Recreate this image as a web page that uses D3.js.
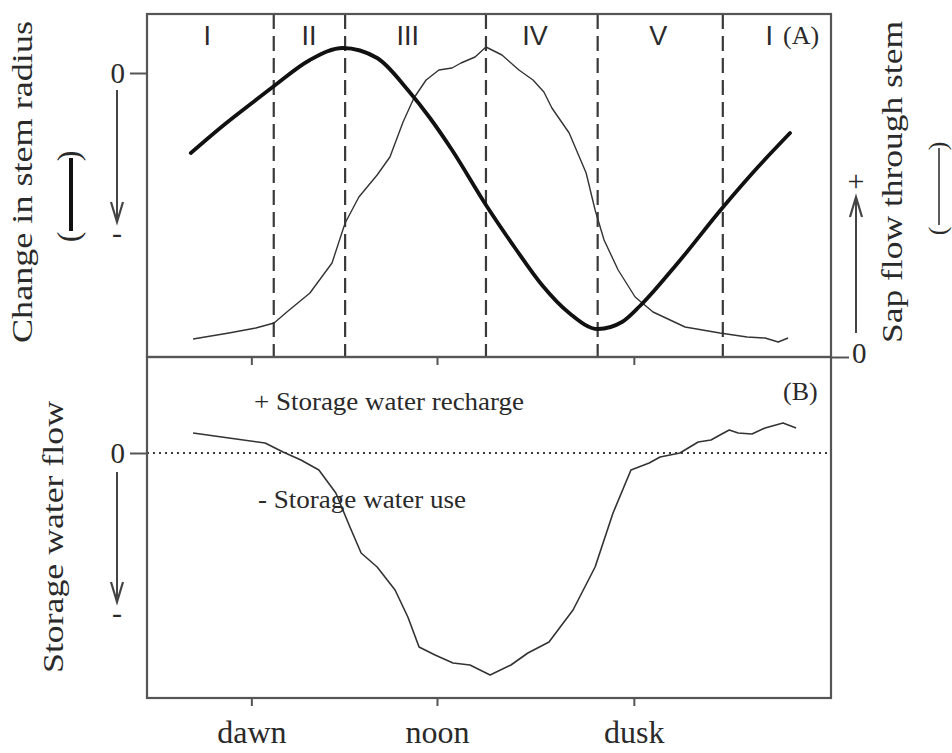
<!DOCTYPE html>
<html>
<head>
<meta charset="utf-8">
<script src="https://cdn.jsdelivr.net/npm/d3@7"></script>
<style>
  body { margin: 0; background: #fff; }
  svg { display: block; }
</style>
</head>
<body>
<svg id="chart" width="952" height="753"></svg>
<script>
// Time of day (hours) for each sample
const radiusHours = [4.31, 5.38, 6.22, 6.91, 8.03, 9.06, 10.13, 11.09, 11.78, 12.47, 13.53,
  14.44, 15.28, 16.13, 17.03, 17.78, 18.34, 19.47, 20.94, 22.0, 23.03];
// Change in stem radius (relative units, 0 = reference)
const radiusValues = [-0.80, -0.51, -0.30, -0.13, 0.13, 0.25, 0.15, -0.17, -0.45, -0.77, -1.32,
  -1.75, -2.12, -2.40, -2.56, -2.49, -2.33, -1.92, -1.34, -0.95, -0.60];

const sapHours = [4.38, 5.5, 6.34, 6.91, 7.31, 8.03, 8.72, 9.13, 9.56, 10.13, 10.53, 10.94,
  11.28, 11.66, 12.06, 12.47, 12.75, 13.19, 13.53, 14.03, 14.56, 15.0, 15.34, 15.59, 16.13,
  16.66, 16.94, 17.22, 17.66, 18.19, 18.75, 19.75, 20.84, 21.69, 22.25, 22.66, 22.97];
// Sap flow through stem (relative units)
const sapValues = [0.18, 0.24, 0.29, 0.34, 0.45, 0.64, 0.94, 1.34, 1.60, 1.82, 2.00, 2.35,
  2.59, 2.77, 2.87, 2.89, 2.94, 3.00, 3.10, 3.02, 2.87, 2.77, 2.65, 2.49, 2.24,
  1.84, 1.47, 1.17, 0.87, 0.60, 0.45, 0.30, 0.24, 0.20, 0.19, 0.15, 0.19];

const storageHours = [4.38, 5.5, 6.63, 7.19, 7.75, 8.31, 8.84, 9.28, 9.63, 10.13, 10.69, 11.09,
  11.44, 11.94, 12.5, 13.03, 13.66, 14.31, 14.84, 15.5, 16.25, 16.94, 17.5, 18.06, 18.63,
  18.97, 19.59, 20.16, 20.56, 20.84, 21.13, 21.41, 21.84, 22.25, 22.81, 23.22];
// Storage water flow (+ recharge, - use)
const storageValues = [0.20, 0.15, 0.10, 0.01, -0.07, -0.17, -0.40, -0.74, -1.00, -1.14, -1.37, -1.64,
  -1.94, -2.02, -2.10, -2.12, -2.22, -2.12, -2.00, -1.89, -1.57, -1.14, -0.60, -0.17, -0.10,
  -0.04, 0.00, 0.11, 0.13, 0.18, 0.23, 0.20, 0.19, 0.25, 0.30, 0.25];

// Phase boundaries (hours) and phase labels
const phaseBounds = [6.9, 9.13, 13.53, 17.02, 20.93];
const phaseLabels = ["I", "II", "III", "IV", "V", "I"];
const phaseLabelHours = [4.82, 8.0, 11.09, 15.06, 18.91, 22.38];

// Time axis ticks
const timeTicks = [6.2, 12.0, 18.15];
const timeLabels = ["dawn", "noon", "dusk"];

const svg = d3.select("#chart");
const serif = "'Liberation Serif', 'Times New Roman', serif";
const sans = "'Liberation Sans', Arial, sans-serif";
const ink = "#2a2a2a";
const frameColor = "#555";

const left = 147, right = 831, topA = 14, midY = 357, botB = 698;

const x = d3.scaleLinear().domain([2.94, 24.31]).range([left, right]);
const yRadius = d3.scaleLinear().domain([-2.84, 0.59]).range([midY, topA]);
const ySap = d3.scaleLinear().domain([0, 3.43]).range([midY, topA]);
const yStore = d3.scaleLinear().domain([-2.45, 0.96]).range([botB, midY]);

// Phase boundary dashes
svg.append("g").selectAll("line").data(phaseBounds).join("line")
  .attr("x1", d => x(d)).attr("x2", d => x(d))
  .attr("y1", topA).attr("y2", midY)
  .attr("stroke", "#3a3a3a").attr("stroke-width", 2.2)
  .attr("stroke-dasharray", "15,7");

// Zero line in panel B
svg.append("line")
  .attr("x1", left).attr("x2", right)
  .attr("y1", yStore(0)).attr("y2", yStore(0))
  .attr("stroke", "#3a3a3a").attr("stroke-width", 2)
  .attr("stroke-dasharray", "2,4");

// Sap flow (thin)
svg.append("path")
  .datum(sapHours.map((h, i) => [h, sapValues[i]]))
  .attr("fill", "none").attr("stroke", "#333").attr("stroke-width", 1.4)
  .attr("stroke-linejoin", "round")
  .attr("d", d3.line().x(d => x(d[0])).y(d => ySap(d[1])).curve(d3.curveLinear));

// Stem radius (thick)
svg.append("path")
  .datum(radiusHours.map((h, i) => [h, radiusValues[i]]))
  .attr("fill", "none").attr("stroke", "#111").attr("stroke-width", 3.8)
  .attr("stroke-linecap", "round")
  .attr("d", d3.line().x(d => x(d[0])).y(d => yRadius(d[1])).curve(d3.curveMonotoneX));

// Storage water flow
svg.append("path")
  .datum(storageHours.map((h, i) => [h, storageValues[i]]))
  .attr("fill", "none").attr("stroke", "#333").attr("stroke-width", 1.6)
  .attr("stroke-linejoin", "round")
  .attr("d", d3.line().x(d => x(d[0])).y(d => yStore(d[1])));

// Panel frames
[[topA, midY], [midY, botB]].forEach(([y0, y1]) => {
  svg.append("rect").attr("x", left).attr("y", y0)
    .attr("width", right - left).attr("height", y1 - y0)
    .attr("fill", "none").attr("stroke", frameColor).attr("stroke-width", 2.2);
});

function styleAxis(g, size) {
  g.select(".domain").remove();
  g.selectAll(".tick line").attr("stroke", frameColor).attr("stroke-width", 2);
  g.selectAll(".tick text").attr("fill", ink)
    .style("font-family", serif).style("font-size", size + "px");
}

// Zero ticks
const axA = svg.append("g").attr("transform", `translate(${left},0)`)
  .call(d3.axisLeft(yRadius).tickValues([0]).tickSize(17).tickPadding(5).tickFormat(() => "0"));
styleAxis(axA, 29);
const axB = svg.append("g").attr("transform", `translate(${left},0)`)
  .call(d3.axisLeft(yStore).tickValues([0]).tickSize(17).tickPadding(5).tickFormat(() => "0"));
styleAxis(axB, 29);
const axR = svg.append("g").attr("transform", `translate(${right},0)`)
  .call(d3.axisRight(ySap).tickValues([0]).tickSize(18).tickPadding(3).tickFormat(() => "0"));
styleAxis(axR, 29);
axR.selectAll(".tick text").attr("dy", "0.2em");

// Time ticks at the panel boundary and at the bottom
const axMid = svg.append("g").attr("transform", `translate(0,${midY})`)
  .call(d3.axisBottom(x).tickValues(timeTicks).tickSize(8).tickFormat(() => ""));
styleAxis(axMid, 10);
const axBot = svg.append("g").attr("transform", `translate(0,${botB})`)
  .call(d3.axisBottom(x).tickValues(timeTicks).tickSize(8).tickFormat((d, i) => timeLabels[i]));
styleAxis(axBot, 32);
axBot.selectAll(".tick text").attr("y", 45).attr("dy", 0);

// Phase labels
svg.append("g").selectAll("text").data(phaseLabels).join("text")
  .attr("x", (d, i) => x(phaseLabelHours[i])).attr("y", 45)
  .attr("text-anchor", "middle").attr("fill", ink)
  .style("font-family", sans).style("font-size", "27px")
  .text(d => d);

function label(txt, xp, yp, size, opts = {}) {
  const t = svg.append("text").attr("x", xp).attr("y", yp).attr("fill", ink)
    .style("font-family", serif).style("font-size", size + "px")
    .attr("text-anchor", opts.anchor || "start").text(txt);
  if (opts.len) t.attr("textLength", opts.len).attr("lengthAdjust", "spacingAndGlyphs");
  return t;
}
function vlabel(txt, xp, yp, size, len) {
  const t = svg.append("text").attr("transform", `translate(${xp},${yp}) rotate(-90)`)
    .attr("text-anchor", "middle").attr("fill", ink)
    .style("font-family", serif).style("font-size", size + "px").text(txt);
  if (len) t.attr("textLength", len).attr("lengthAdjust", "spacingAndGlyphs");
  return t;
}

label("(A)", 783, 44, 26);
label("(B)", 783, 400, 26);
label("+ Storage water recharge", 254, 410, 26, { len: 270 });
label("- Storage water use", 258, 508, 26, { len: 208 });

// Axis titles
vlabel("Change in stem radius", 32, 182, 30, 322);
vlabel("Sap flow through stem", 902, 182, 30, 322);
vlabel("Storage water flow", 63, 537, 30, 272);

// Line-style keys inside parentheses
function key(cx, yTop, yBot, width, color, size) {
  const off = size * 0.25;
  vlabel(")", cx + off, yTop + 6, size);
  vlabel("(", cx + off, yBot - 6, size);
  svg.append("line").attr("x1", cx).attr("x2", cx)
    .attr("y1", yTop + 8).attr("y2", yBot - 12)
    .attr("stroke", color).attr("stroke-width", width);
}
key(71, 150, 243, 4, "#111", 32);
key(939, 140, 237, 1.6, "#333", 26);

// Direction arrows
function arrow(ax, y0, y1) {
  const dir = y1 > y0 ? 1 : -1;
  svg.append("line").attr("x1", ax).attr("x2", ax).attr("y1", y0).attr("y2", y1)
    .attr("stroke", "#444").attr("stroke-width", 2);
  svg.append("path")
    .attr("d", `M${ax - 6},${y1 - dir * 20} L${ax},${y1} L${ax + 6},${y1 - dir * 20}`)
    .attr("fill", "none").attr("stroke", "#444").attr("stroke-width", 2.2);
}
arrow(117, 90, 222);
label("-", 117, 243, 30, { anchor: "middle" });
arrow(117, 472, 602);
label("-", 117, 623, 30, { anchor: "middle" });
arrow(856, 333, 197);
label("+", 856, 191, 30, { anchor: "middle" });
</script>
</body>
</html>
